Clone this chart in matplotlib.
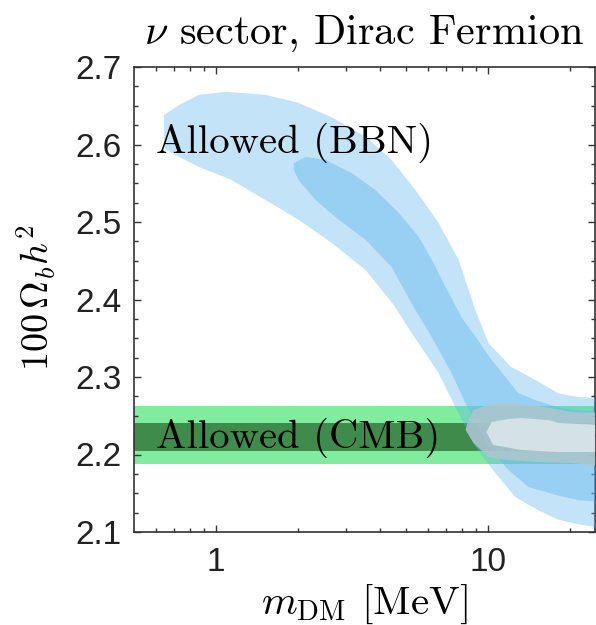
import numpy as np
import matplotlib
matplotlib.use("Agg")
import matplotlib.pyplot as plt
from matplotlib.ticker import FixedLocator, NullFormatter

plt.rcParams['mathtext.fontset'] = 'cm'

# --- BBN allowed region, outer (2 sigma) contour ---
bbn_outer_top_m = [0.645, 0.732, 0.866, 1.09, 1.52, 2.0, 2.66, 3.54, 4.41, 5.40, 6.56, 7.77, 8.96, 10.0, 12.1, 14.9, 18.0, 21.4, 26.0]
bbn_outer_top_ob = [2.638, 2.651, 2.664, 2.668, 2.664, 2.654, 2.635, 2.610, 2.580, 2.541, 2.499, 2.451, 2.386, 2.344, 2.313, 2.296, 2.279, 2.274, 2.273]
bbn_outer_bot_m = [26.0, 21.4, 18.0, 15.25, 12.56, 10.6, 8.96, 7.57, 6.56, 5.22, 4.49, 3.54, 2.66, 2.01, 1.525, 1.144, 0.866, 0.732, 0.645]
bbn_outer_bot_ob = [2.105, 2.110, 2.116, 2.128, 2.145, 2.176, 2.210, 2.261, 2.305, 2.357, 2.393, 2.438, 2.473, 2.503, 2.528, 2.554, 2.571, 2.584, 2.595]

# --- BBN allowed region, inner (1 sigma) contour ---
bbn_inner_top_m = [1.93, 2.136, 2.53, 3.15, 3.856, 4.68, 5.54, 6.29, 6.96, 7.96, 8.96, 10.26, 11.54, 12.88, 14.87, 18.05, 21.4, 26.0]
bbn_inner_top_ob = [2.576, 2.584, 2.580, 2.563, 2.541, 2.512, 2.481, 2.447, 2.416, 2.377, 2.352, 2.322, 2.300, 2.279, 2.270, 2.261, 2.257, 2.255]
bbn_inner_bot_m = [26.0, 21.4, 17.6, 14.02, 11.84, 10.0, 8.24, 7.32, 6.18, 5.22, 4.41, 3.54, 2.82, 2.325, 2.01, 1.93]
bbn_inner_bot_ob = [2.139, 2.141, 2.148, 2.158, 2.180, 2.210, 2.266, 2.305, 2.352, 2.395, 2.442, 2.477, 2.503, 2.528, 2.554, 2.567]

# --- combined BBN + CMB region ---
comb_outer_m = [8.45, 8.81, 10.0, 11.54, 15.25, 17.6, 20.1, 26.0, 26.0, 20.1, 15.25, 11.54, 10.0, 8.81, 8.24]
comb_outer_ob = [2.2445, 2.2574, 2.2639, 2.2665, 2.2626, 2.2587, 2.2548, 2.2535, 2.1852, 2.189, 2.1903, 2.1929, 2.1968, 2.2148, 2.2316]
comb_inner_m = [9.83, 10.26, 11.84, 13.2, 16.6, 18.05, 26.0, 26.0, 18.05, 13.2, 10.4]
comb_inner_ob = [2.229, 2.2419, 2.2458, 2.2471, 2.2445, 2.2406, 2.238, 2.2032, 2.2032, 2.2058, 2.2123]

# --- CMB bands ---
cmb_1sigma = [2.2045, 2.2406]
cmb_2sigma = [2.1877, 2.2626]

xticks = [1, 10]
yticks = [2.1, 2.2, 2.3, 2.4, 2.5, 2.6, 2.7]

fig = plt.figure(figsize=(5.96, 6.25), dpi=100)
ax = fig.add_axes([0.2248, 0.1488, 0.7735, 0.744])
ax.set_xscale('log')
ax.set_xlim(0.5, 24.6)
ax.set_ylim(2.1, 2.7)

# CMB bands across the full mass range
ax.axhspan(cmb_2sigma[0], cmb_2sigma[1], color='#80ec9e', lw=0, zorder=1)
ax.axhspan(cmb_1sigma[0], cmb_1sigma[1], color='#3f8b4b', lw=0, zorder=2)

# BBN contours
blue = '#5fb6ef'
ax.fill(bbn_outer_top_m + bbn_outer_bot_m, bbn_outer_top_ob + bbn_outer_bot_ob,
        color=blue, alpha=0.38, lw=0, zorder=3)
ax.fill(bbn_inner_top_m + bbn_inner_bot_m, bbn_inner_top_ob + bbn_inner_bot_ob,
        color=blue, alpha=0.42, lw=0, zorder=4)

# combined region
ax.fill(comb_outer_m, comb_outer_ob, color='#b0c6cf', alpha=0.85, lw=0, zorder=5)
ax.fill(comb_inner_m, comb_inner_ob, color='#d7e3e7', alpha=0.95, lw=0, zorder=6)

ax.text(0.603, 2.589, 'Allowed (BBN)', family='cmr10', fontsize=29.3, zorder=8)
ax.text(0.603, 2.2084, 'Allowed (CMB)', family='cmr10', fontsize=29.3, zorder=8)

ax.set_title(r'$\nu$ sector, Dirac Fermion', family='cmr10', fontsize=30.5, pad=17)
ax.set_xlabel(r'$m_{\rm DM}$ [MeV]', family='cmr10', fontsize=29.5)
ax.xaxis.set_label_coords(0.5, -0.108)
ax.set_ylabel(r'$100\,\mathit{\Omega}_b h^2$', fontsize=27.5)
ax.yaxis.set_label_coords(-0.165, 0.505)

# ticks on all four sides, pointing in
ax.xaxis.set_major_locator(FixedLocator(xticks))
ax.xaxis.set_minor_locator(FixedLocator([0.6, 0.7, 0.8, 0.9, 2, 3, 4, 5, 6, 7, 8, 9, 20]))
ax.xaxis.set_minor_formatter(NullFormatter())
ax.set_xticklabels([str(t) for t in xticks])
ax.yaxis.set_major_locator(FixedLocator(yticks))
ax.yaxis.set_minor_locator(FixedLocator(np.arange(2.1, 2.7, 0.025)))
ax.set_yticklabels([f'{t:.1f}' for t in yticks])
ax.tick_params(which='both', direction='in', top=True, right=True, color='#333333', width=1.0)
ax.tick_params(which='major', length=5)
ax.tick_params(which='minor', length=3)
ax.tick_params(axis='y', which='major', pad=9)
ax.tick_params(axis='x', which='major', pad=11)
for lab in ax.get_xticklabels() + ax.get_yticklabels():
    lab.set_fontfamily('Liberation Sans')
    lab.set_fontsize(24)
    lab.set_color('#222222')
for sp in ax.spines.values():
    sp.set_color('#333333')
    sp.set_linewidth(1.2)

fig.savefig('out.png', dpi=100)
